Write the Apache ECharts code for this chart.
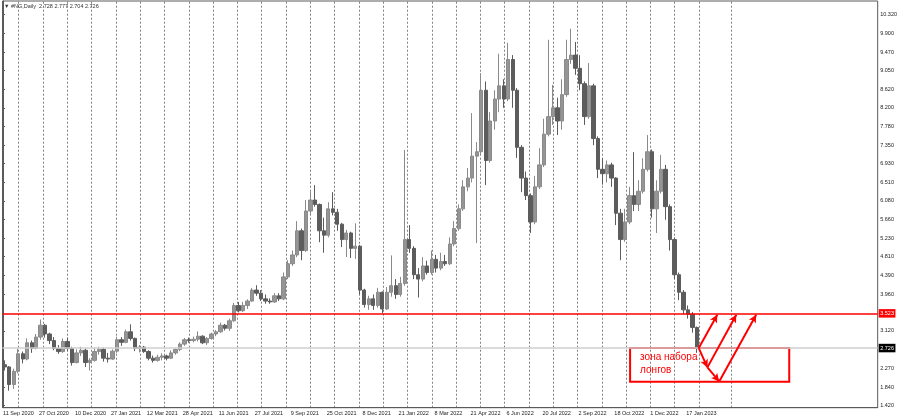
<!DOCTYPE html>
<html><head><meta charset="utf-8">
<script src="https://cdn.jsdelivr.net/npm/echarts@6/dist/echarts.min.js"></script>
<style>html,body{margin:0;padding:0;background:#fff}#c{width:900px;height:420px}</style>
</head><body><div id="c"></div>
<script>
// #NG Daily, each candle aggregates 4 daily bars
const barsPerCandle = 4;
const opens = [
2.35,2.30,1.90,2.20,2.60,2.48,2.85,2.72,2.98,3.25,
3.05,2.90,2.72,2.65,2.88,2.72,2.40,2.62,2.68,2.40,
2.45,2.65,2.70,2.50,2.48,2.66,2.92,2.86,3.10,2.95,
2.72,2.75,2.65,2.50,2.45,2.52,2.55,2.50,2.62,2.70,
2.82,2.92,2.90,2.93,3.00,2.85,2.95,3.05,3.10,3.25,
3.18,3.35,3.70,3.58,3.70,3.80,4.05,3.98,3.85,3.80,
3.78,3.92,3.85,4.35,4.65,4.85,5.40,4.95,5.85,6.10,
6.00,5.40,5.30,5.90,5.82,5.55,5.20,5.35,5.00,5.05,
4.05,3.72,3.85,3.70,4.00,3.62,4.00,4.15,3.95,4.20,
5.20,5.00,4.40,4.30,4.60,4.45,4.75,4.55,4.70,4.65,
5.10,5.45,5.90,6.40,6.60,7.10,7.20,8.60,7.00,7.90,
8.40,8.70,8.40,9.30,8.60,7.30,6.60,6.20,5.60,6.40,
6.90,7.60,8.00,8.20,7.90,8.50,9.30,9.40,9.10,8.75,
8.00,8.70,7.50,6.80,6.70,6.90,6.60,5.80,5.20,5.60,
6.20,6.00,6.30,6.80,7.20,5.90,6.30,6.80,5.95,5.20,
4.40,4.00,3.60,3.50,3.20];
const closes = [
2.30,1.90,2.20,2.60,2.48,2.85,2.72,2.98,3.25,3.05,
2.90,2.72,2.65,2.88,2.72,2.40,2.62,2.68,2.40,2.45,
2.65,2.70,2.50,2.48,2.66,2.92,2.86,3.10,2.95,2.72,
2.75,2.65,2.50,2.45,2.52,2.55,2.50,2.62,2.70,2.82,
2.92,2.90,2.93,3.00,2.85,2.95,3.05,3.10,3.25,3.18,
3.35,3.70,3.58,3.70,3.80,4.05,3.98,3.85,3.80,3.78,
3.92,3.85,4.35,4.65,4.85,5.40,4.95,5.85,6.10,6.00,
5.40,5.30,5.90,5.82,5.55,5.20,5.35,5.00,5.05,4.05,
3.72,3.85,3.70,4.00,3.62,4.00,4.15,3.95,4.20,5.20,
5.00,4.40,4.30,4.60,4.45,4.75,4.55,4.70,4.65,5.10,
5.45,5.90,6.40,6.60,7.10,7.20,8.60,7.00,7.90,8.40,
8.70,8.40,9.30,8.60,7.30,6.60,6.20,5.60,6.40,6.90,
7.60,8.00,8.20,7.90,8.50,9.30,9.40,9.10,8.75,8.00,
8.70,7.50,6.80,6.70,6.90,6.60,5.80,5.20,5.60,6.20,
6.00,6.30,6.80,7.20,5.90,6.30,6.80,5.95,5.20,4.40,
4.00,3.60,3.50,3.20,2.726];
const lows = [
2.22,1.76,1.80,2.15,2.38,2.45,2.62,2.70,2.92,2.97,
2.82,2.68,2.60,2.62,2.66,2.33,2.38,2.55,2.30,2.22,
2.42,2.58,2.42,2.40,2.46,2.62,2.78,2.84,2.90,2.66,
2.63,2.62,2.45,2.40,2.42,2.45,2.45,2.48,2.58,2.66,
2.78,2.85,2.86,2.88,2.82,2.80,2.92,3.00,3.08,3.13,
3.12,3.33,3.54,3.55,3.62,3.78,3.92,3.80,3.74,3.74,
3.76,3.80,3.82,4.30,4.60,4.80,4.73,4.92,5.78,5.95,
5.14,4.90,5.25,5.75,5.40,5.03,4.80,4.78,4.76,3.95,
3.65,3.60,3.60,3.65,3.52,3.60,3.90,3.85,3.90,4.15,
4.90,4.30,3.88,4.25,4.40,4.40,4.45,4.50,4.60,4.62,
5.05,5.40,5.85,6.30,6.50,5.12,7.15,6.44,6.95,7.70,
8.10,8.20,8.35,8.20,7.06,6.28,6.10,5.35,5.55,6.35,
6.85,7.55,7.81,7.58,7.70,8.45,9.20,8.95,8.60,7.81,
7.95,7.35,6.60,6.45,6.50,6.40,5.53,4.73,5.15,5.55,
5.85,5.85,6.25,6.75,5.70,5.35,6.25,5.65,4.95,4.30,
3.82,3.50,3.40,3.08,2.62];
const highs = [
2.45,2.32,2.26,2.72,2.65,2.95,2.90,3.05,3.38,3.28,
3.08,2.98,2.80,2.95,2.97,2.76,2.70,2.76,2.72,2.50,
2.74,2.76,2.74,2.62,2.70,2.99,2.98,3.15,3.27,2.97,
2.80,2.78,2.68,2.56,2.58,2.61,2.58,2.68,2.72,2.86,
2.96,2.97,2.99,3.11,3.02,2.98,3.08,3.14,3.31,3.28,
3.40,3.76,3.78,3.78,3.84,4.10,4.16,4.05,3.95,3.86,
3.98,3.98,4.45,4.73,4.95,5.62,5.45,6.10,6.30,6.44,
6.02,5.70,6.05,6.28,5.90,5.58,5.42,5.38,5.57,5.08,
4.08,3.92,3.95,4.10,4.02,4.12,4.84,4.30,4.35,7.24,
5.53,5.05,4.55,4.80,4.72,4.95,4.85,4.90,4.85,5.25,
5.62,6.00,6.55,6.83,8.08,7.42,8.99,8.80,8.10,8.60,
9.43,8.85,9.68,9.40,8.65,7.35,6.75,6.25,6.65,7.28,
7.95,9.75,8.72,8.43,8.85,9.75,10.00,9.70,9.40,8.80,
9.22,8.75,7.55,7.05,7.00,6.95,6.62,5.90,5.90,6.40,
7.19,6.55,7.05,7.58,7.25,6.55,7.13,6.90,6.00,5.25,
4.45,4.05,3.70,3.55,3.22];

// time scale labels, one every 32 daily bars
const barsPerLabel = 32;
const dateLabels = ['11 Sep 2020','27 Oct 2020','10 Dec 2020','27 Jan 2021','12 Mar 2021',
  '28 Apr 2021','11 Jun 2021','27 Jul 2021','9 Sep 2021','25 Oct 2021','8 Dec 2021',
  '21 Jan 2022','8 Mar 2022','21 Apr 2022','6 Jun 2022','20 Jul 2022','2 Sep 2022',
  '18 Oct 2022','1 Dec 2022','17 Jan 2023'];
// price scale labels
const priceTicks = [1.420,1.840,2.270,3.120,3.960,4.390,4.810,5.230,5.660,6.080,6.510,
  6.930,7.350,7.780,8.200,8.620,9.050,9.470,9.900,10.320];

const titleText = '\u25BC #NG,Daily  2.728 2.777 2.704 2.726';
const levelPrice = 3.523;
const lastPrice = 2.726;
// annotation (bar index, price)
const zoneBox = [[558.0, 2.731], [699.6, 1.964]];
const zoneText = 'зона набора\nлонгов';
const arrowPts = {A:[619.1,2.73], B:[626.8,2.29], C:[637.3,1.97],
  T1:[635.6,3.49], T2:[652.5,3.49], T3:[670.2,3.49]};
const arrows = [['A','B'],['B','C'],['A','T1'],['B','T2'],['C','T3']];

const FONT = 'Liberation Sans, Arial, sans-serif';
const candles = opens.map((o, k) => [k * barsPerCandle + 1.5, o, closes[k], lows[k], highs[k]]);
const labelBars = dateLabels.map((_, i) => i * barsPerLabel);
// MT4 vertical grid (styling)
const gridBars = [];
for (let i = 0; i <= 28; i++) gridBars.push(13.98 + i * 21.62);
gridBars.push(648.0);

function hLine(price, color, width, boxBg, z) {
  return {type: 'line', data: [], z: z, silent: true, color: color,
    itemStyle: {color: color}, lineStyle: {color: color},
    markLine: {silent: true, symbol: 'none', animation: false,
      lineStyle: {color: color, width: width, type: 'solid', opacity: 1},
      label: {show: true, position: 'end', distance: 1, formatter: price.toFixed(3), color: '#fff',
        backgroundColor: boxBg, padding: [1.5, 1.5, 1, 1.5], fontSize: 5.5, fontFamily: FONT},
      data: [{yAxis: price, lineStyle: {color: color, width: width, type: 'solid'}}]}};
}

const chart = echarts.init(document.getElementById('c'), null, {renderer: 'canvas'});
chart.setOption({
  animation: false,
  backgroundColor: '#ffffff',
  title: {text: titleText, left: 4, top: 3, padding: 0,
    textStyle: {fontSize: 5.5, fontWeight: 'normal', color: '#333', fontFamily: FONT}},
  grid: {left: 2, right: 18, top: 1, bottom: 12.3, show: true, borderColor: '#5a5a5a', borderWidth: 1, backgroundColor: 'transparent'},
  xAxis: {type: 'value', min: -0.44, max: 778.3, splitLine: {show: false},
    axisLine: {show: true, lineStyle: {color: '#5a5a5a'}},
    axisTick: {show: false, customValues: labelBars},
    axisLabel: {customValues: labelBars, formatter: v => dateLabels[Math.round(v / barsPerLabel)] || '',
      align: 'left', fontSize: 5.5, color: '#222', margin: 2.5, fontFamily: FONT}},
  yAxis: {type: 'value', position: 'right', min: 1.372, max: 10.632, scale: true, splitLine: {show: false},
    axisLine: {show: true, lineStyle: {color: '#5a5a5a'}},
    axisTick: {show: true, length: 2, customValues: priceTicks, lineStyle: {color: '#5a5a5a'}},
    axisLabel: {customValues: priceTicks, formatter: v => v.toFixed(3), fontSize: 5.5, color: '#222', margin: 2.5, fontFamily: FONT}},
  series: [
    {type: 'line', data: [], z: 0, silent: true,
      markLine: {silent: true, symbol: 'none', z: 0, animation: false, label: {show: false},
        lineStyle: {color: '#808080', width: 1, type: [2, 2]},
        data: gridBars.map(v => ({xAxis: v}))}},
    hLine(lastPrice, '#cfcfcf', 1.5, '#000000', 1),
    {type: 'candlestick', z: 2, barWidth: 3.8, silent: true,
      encode: {x: 0, y: [1, 2, 3, 4]},
      data: candles,
      itemStyle: {color: '#959595', color0: '#5c5c5c', borderColor: '#8a8a8a', borderColor0: '#5c5c5c', borderWidth: 1}},
    hLine(levelPrice, '#ff0000', 1.5, '#ff0000', 4),
    {type: 'line', data: [], z: 6, silent: true,
      markArea: {silent: true, animation: false,
        itemStyle: {color: 'rgba(0,0,0,0)', borderColor: '#ff0000', borderWidth: 2},
        label: {show: true, position: 'insideTopLeft', distance: 0, offset: [11, 4], formatter: zoneText,
          color: '#ff0000', fontSize: 10, lineHeight: 13, fontFamily: FONT},
        data: [[{coord: zoneBox[0]}, {coord: zoneBox[1]}]]},
      markLine: {silent: true, animation: false, symbol: ['none', 'arrow'], symbolSize: [6, 8],
        lineStyle: {color: '#ff0000', width: 2, type: 'solid'}, label: {show: false},
        data: arrows.map(([a, b]) => [{coord: arrowPts[a]}, {coord: arrowPts[b]}])}}
  ]
});
</script></body></html>
